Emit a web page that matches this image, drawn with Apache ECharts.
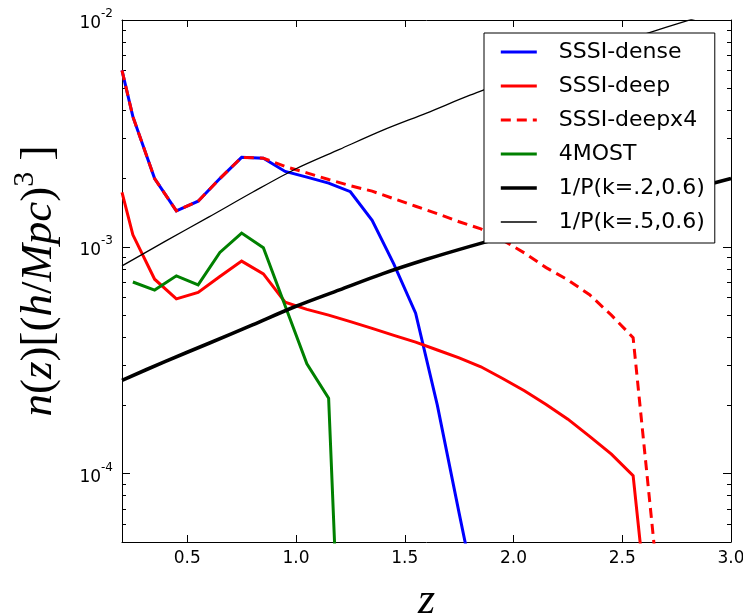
<!DOCTYPE html>
<html>
<head>
<meta charset="utf-8">
<script src="https://cdn.jsdelivr.net/npm/echarts@6/dist/echarts.min.js"></script>
<style>
  html, body { margin: 0; padding: 0; background: #ffffff; }
  #chart { width: 743px; height: 613px; }
</style>
</head>
<body>
<div id="chart"></div>
<script>
// Redshift bin centres used by the survey curves
const zBins = [0.2, 0.25, 0.35, 0.45, 0.55, 0.65, 0.75, 0.85, 0.95, 1.05, 1.15, 1.25, 1.35,
               1.45, 1.55, 1.65, 1.75, 1.85, 1.95, 2.05, 2.15, 2.25, 2.35, 2.45, 2.55, 2.65];

// Number densities n(z) in (h/Mpc)^3
const nDense = [6.0e-3, 3.75e-3, 2.0e-3, 1.44e-3, 1.59e-3, 2.0e-3, 2.48e-3, 2.46e-3, 2.15e-3,
                2.03e-3, 1.91e-3, 1.75e-3, 1.31e-3, 8.4e-4, 5.1e-4, 2.0e-4, 6.7e-5, 2.3e-5,
                null, null, null, null, null, null, null, null];
const nDeep = [1.74e-3, 1.13e-3, 7.2e-4, 5.9e-4, 6.3e-4, 7.4e-4, 8.65e-4, 7.6e-4, 5.7e-4,
               5.3e-4, 5.0e-4, 4.68e-4, 4.37e-4, 4.07e-4, 3.8e-4, 3.51e-4, 3.24e-4, 2.96e-4,
               2.63e-4, 2.32e-4, 2.02e-4, 1.74e-4, 1.46e-4, 1.22e-4, 9.8e-5, 1.2e-5];
const nDeepX4 = [6.0e-3, 3.75e-3, 2.0e-3, 1.44e-3, 1.59e-3, 2.0e-3, 2.48e-3, 2.46e-3, 2.26e-3,
                 2.12e-3, 1.98e-3, 1.86e-3, 1.76e-3, 1.63e-3, 1.51e-3, 1.40e-3, 1.29e-3, 1.2e-3,
                 1.07e-3, 9.4e-4, 8.1e-4, 7.15e-4, 6.15e-4, 5.0e-4, 3.98e-4, 4.5e-5];
const n4MOST = [null, 7.0e-4, 6.45e-4, 7.45e-4, 6.8e-4, 9.45e-4, 1.15e-3, 9.9e-4, 5.5e-4,
                3.05e-4, 2.15e-4, 1.0e-6, null, null, null, null, null, null,
                null, null, null, null, null, null, null, null];

// Inverse power spectrum 1/P(k) at k = 0.2 and 0.5 (mu = 0.6)
const zGrid = [0.2, 0.4, 0.6, 0.8, 1.0, 1.2, 1.4, 1.6, 1.8, 2.0, 2.2, 2.4, 2.6, 2.8, 3.0];
const invPk02 = [2.58e-4, 3.13e-4, 3.76e-4, 4.53e-4, 5.47e-4, 6.46e-4, 7.62e-4, 8.81e-4,
                 1.005e-3, 1.135e-3, 1.27e-3, 1.43e-3, 1.59e-3, 1.78e-3, 2.0e-3];
const invPk05 = [8.24e-4, 1.06e-3, 1.355e-3, 1.74e-3, 2.21e-3, 2.69e-3, 3.27e-3, 3.89e-3,
                 4.66e-3, 5.5e-3, 6.46e-3, 7.5e-3, 8.65e-3, 9.93e-3, 1.135e-2];

// Axis ranges and tick positions
const zMin = 0.2, zMax = 3.0;
const nMin = 5e-5, nMax = 1e-2;
const xTicks = [0.5, 1.0, 1.5, 2.0, 2.5, 3.0];
const yMajorTicks = [1e-4, 1e-3, 1e-2];
const yMinorTicks = [6e-5, 7e-5, 8e-5, 9e-5,
                     2e-4, 3e-4, 4e-4, 5e-4, 6e-4, 7e-4, 8e-4, 9e-4,
                     2e-3, 3e-3, 4e-3, 5e-3, 6e-3, 7e-3, 8e-3, 9e-3];

const pairs = (xs, ys) => xs.map((x, i) => [x, ys[i]]).filter(p => p[1] != null);

const tickFont = 'DejaVu Sans';
const mathFont = 'Liberation Serif';

// Curve styles: colour, width, dash, smoothing
const curveStyles = {
  'SSSI-dense':    ['#0000ff', 3.0, 'solid', false],
  'SSSI-deep':     ['#ff0000', 3.0, 'solid', false],
  'SSSI-deepx4':   ['#ff0000', 3.0, [10, 6], false],
  '4MOST':         ['#008000', 3.0, 'solid', false],
  '1/P(k=.2,0.6)': ['#000000', 3.6, 'solid', 0.3],
  '1/P(k=.5,0.6)': ['#000000', 1.3, 'solid', 0.3]
};

function yLabel(v) {
  const e = Math.round(Math.log10(v));
  return '{b|10}{s|' + e + '}';
}

function xAxisDef(pos, withLabels) {
  return {
    type: 'value', min: zMin, max: zMax, position: pos,
    axisLine: { show: true, onZero: false, lineStyle: { color: '#000', width: 1 } },
    axisTick: { show: true, inside: true, length: 7, customValues: xTicks,
                lineStyle: { color: '#000', width: 1 } },
    axisLabel: withLabels ? {
      show: true, customValues: xTicks, margin: 8,
      formatter: v => v.toFixed(1),
      color: '#000', fontSize: 17, fontFamily: tickFont
    } : { show: false },
    splitLine: { show: false }
  };
}

function yAxisDef(pos, ticks, len, showLine) {
  return {
    type: 'log', logBase: 10, min: nMin, max: nMax, position: pos,
    axisLine: { show: showLine, onZero: false, lineStyle: { color: '#000', width: 1 } },
    axisTick: { show: true, inside: true, length: len, customValues: ticks,
                lineStyle: { color: '#000', width: 1 } },
    axisLabel: { show: false },
    splitLine: { show: false },
    minorTick: { show: false }
  };
}

const xMain = xAxisDef('bottom', true);
xMain.name = 'z';
xMain.nameLocation = 'middle';
xMain.nameGap = 37;
xMain.nameTextStyle = { fontFamily: mathFont, fontStyle: 'italic', fontSize: 44, color: '#000' };

const yMain = yAxisDef('left', yMajorTicks, 8, true);
yMain.axisLabel = {
  show: true, customValues: yMajorTicks, margin: 9, formatter: yLabel,
  rich: {
    b: { fontFamily: tickFont, fontSize: 17, color: '#000', lineHeight: 24, verticalAlign: 'bottom' },
    s: { fontFamily: tickFont, fontSize: 12, color: '#000', lineHeight: 14, verticalAlign: 'top' }
  }
};
yMain.name = '{i|n}{r|(}{i|z}{r|)[(}{i|h}{r|/}{i|Mpc}{r|)}{s|3}{r| ]}';
yMain.nameLocation = 'middle';
yMain.nameRotate = 90;
yMain.nameGap = 60;
yMain.nameTextStyle = {
  rich: {
    i: { fontFamily: mathFont, fontStyle: 'italic', fontSize: 45, color: '#000', lineHeight: 52, verticalAlign: 'bottom' },
    r: { fontFamily: mathFont, fontSize: 45, color: '#000', lineHeight: 52, verticalAlign: 'bottom' },
    s: { fontFamily: mathFont, fontSize: 30, color: '#000', lineHeight: 32, verticalAlign: 'top' }
  }
};

function lineSeries(name, data) {
  const [color, width, dash, smooth] = curveStyles[name];
  return {
    name: name, type: 'line', data: data, symbol: 'none', showSymbol: false,
    clip: true, silent: true, connectNulls: false, smooth: smooth,
    itemStyle: { color: color },
    lineStyle: { color: color, width: width, type: dash, join: 'miter' },
    emphasis: { disabled: true }
  };
}

const legendNames = ['SSSI-dense', 'SSSI-deep', 'SSSI-deepx4', '4MOST', '1/P(k=.2,0.6)', '1/P(k=.5,0.6)'];

const chart = echarts.init(document.getElementById('chart'), null, { renderer: 'canvas' });
chart.setOption({
  animation: false,
  backgroundColor: '#ffffff',
  textStyle: { fontFamily: tickFont },
  grid: { left: 122, top: 20, width: 609, height: 522, outerBoundsMode: 'none', containLabel: false },
  xAxis: [xMain, xAxisDef('top', false)],
  yAxis: [
    yMain,
    yAxisDef('left', yMinorTicks, 4, false),
    yAxisDef('right', yMajorTicks, 8, true),
    yAxisDef('right', yMinorTicks, 4, false)
  ],
  legend: {
    orient: 'vertical', left: 484, top: 33,
    padding: [8, 10, 10, 15], itemGap: 12, itemWidth: 36, itemHeight: 14,
    borderColor: '#000', borderWidth: 1, borderRadius: 0, backgroundColor: '#ffffff',
    selectedMode: false,
    itemStyle: { opacity: 0 },
    textStyle: { fontSize: 22, fontFamily: tickFont, color: '#000', padding: [0, 0, 0, 17] },
    data: legendNames.map(n => ({
      name: n,
      itemStyle: { opacity: 0 },
      lineStyle: { color: curveStyles[n][0], width: curveStyles[n][1], type: curveStyles[n][2] }
    }))
  },
  series: [
    lineSeries('SSSI-dense', pairs(zBins, nDense)),
    lineSeries('SSSI-deep', pairs(zBins, nDeep)),
    lineSeries('SSSI-deepx4', pairs(zBins, nDeepX4)),
    lineSeries('4MOST', pairs(zBins, n4MOST)),
    lineSeries('1/P(k=.2,0.6)', pairs(zGrid, invPk02)),
    lineSeries('1/P(k=.5,0.6)', pairs(zGrid, invPk05))
  ]
});
</script>
</body>
</html>
